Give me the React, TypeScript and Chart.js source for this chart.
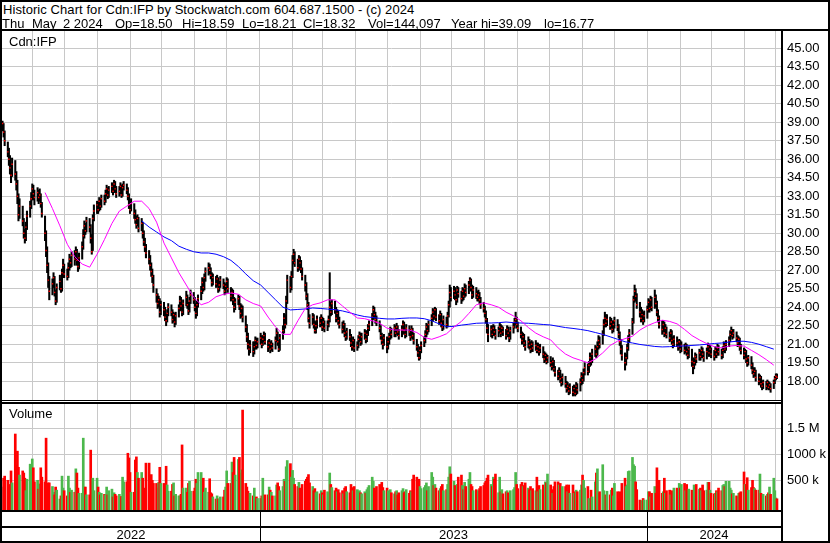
import React, { useEffect, useRef } from "react";
import { Chart, registerables } from "chart.js";
Chart.register(...registerables);

const FONT = '"Liberation Sans", Arial, Helvetica, sans-serif';
const GRID = "#c8c8c8";

const headerLine1 = "Historic Chart for Cdn:IFP by Stockwatch.com 604.687.1500 - (c) 2024";
// second header line: its fields and the column each one starts at
const headerFields = ["Thu", "May", "2 2024", "Op=18.50", "Hi=18.59", "Lo=18.21", "Cl=18.32", "Vol=144,097", "Year hi=39.09", "lo=16.77"];
const headerFieldX = [2, 32, 63, 115, 182, 242, 303, 368, 451, 544];
const symbolLabel = "Cdn:IFP";
const volumeLabel = "Volume";

// first trading day of the series (bars are every weekday from here)
const FIRST_DAY = [2022, 4, 4];

// daily closes, one line per week
const closes = [
  38.9, 38.2, 37.5,
  36.6, 36.0, 35.3, 34.7, 35.6,
  34.8, 34.0, 33.0, 31.5, 32.2,
  31.0, 30.0, 29.6, 30.5, 31.4,
  32.2, 32.8, 33.6, 33.2, 32.9,
  33.3, 32.9, 33.1, 32.4, 31.6,
  30.0, 28.6, 27.4, 26.2, 25.3,
  25.9, 26.4, 25.2, 24.5, 25.6,
  26.1, 25.5, 26.8, 27.4, 26.7,
  26.5, 27.2, 27.9, 27.6, 28.2,
  27.9, 28.5, 27.8, 27.3, 28.0,
  28.9, 29.8, 30.6, 30.2, 31.0,
  30.5, 29.6, 28.5, 31.2, 31.8,
  32.3, 31.9, 32.6, 32.2, 32.8,
  32.6, 33.2, 33.6, 33.1, 33.5,
  33.8, 33.4, 34.0, 33.6, 33.2,
  33.4, 33.8, 33.1, 33.7, 33.9,
  33.5, 33.0, 32.3, 31.9, 32.4,
  31.6, 31.1, 30.7, 31.2, 30.4,
  30.8, 30.0, 29.3, 28.9, 28.4,
  27.9, 27.4, 26.9, 26.5, 25.8,
  25.0, 24.3, 24.6, 23.6, 24.2,
  23.8, 23.2, 22.9, 23.5, 24.0,
  23.6, 23.0, 23.4, 22.8, 23.3,
  23.9, 24.5, 24.1, 23.6, 24.3,
  24.8, 24.2, 23.7, 24.5, 25.0,
  24.6, 24.0, 23.5, 24.2, 24.7,
  25.3, 26.0, 25.6, 26.4, 26.9,
  27.2, 27.0, 26.6, 26.0, 26.4,
  25.9, 26.3, 25.5, 25.8, 26.2,
  25.8, 25.3, 25.7, 26.1, 25.5,
  24.9, 25.2, 24.6, 24.0, 24.4,
  24.7, 24.1, 23.5, 23.9, 23.2,
  22.4, 21.6, 21.0, 20.6, 20.9,
  20.4, 20.8, 21.3, 20.9, 21.2,
  21.5, 21.0, 21.4, 21.7, 21.2,
  20.8, 21.1, 20.6, 21.0, 20.7,
  21.3, 21.9, 21.2, 20.6, 21.5,
  22.1, 23.1, 22.6, 24.5, 26.2,
  25.6, 26.5, 27.8, 28.3, 27.6,
  27.2, 27.9, 27.6, 27.1, 26.5,
  25.8, 24.9, 24.2, 23.1, 22.7,
  23.2, 22.6, 22.1, 22.5, 23.0,
  22.7, 23.1, 22.4, 22.8, 22.3,
  22.6, 23.0, 24.0, 23.6, 24.3,
  23.8, 23.1, 23.5, 22.9, 22.6,
  22.2, 22.6, 21.9, 21.6, 22.0,
  21.6, 21.1, 20.8, 21.3, 20.7,
  20.9, 21.4, 21.7, 21.2, 21.6,
  21.9, 21.4, 21.8, 22.3, 22.6,
  23.2, 23.8, 23.4, 23.0, 22.8,
  22.3, 21.7, 21.3, 21.0, 21.5,
  20.8, 21.2, 21.6, 22.1, 21.8,
  22.3, 21.9, 22.4, 22.0, 21.7,
  22.2, 22.6, 22.1, 21.8, 22.3,
  22.0, 21.6, 22.2, 21.7, 21.3,
  20.8, 20.3, 19.9, 20.5, 20.9,
  21.3, 21.8, 22.4, 22.1, 22.6,
  23.1, 23.6, 23.3, 23.8, 23.2,
  22.9, 23.4, 22.7, 22.4, 23.0,
  22.6, 23.3, 24.2, 25.2, 24.8,
  25.3, 25.0, 24.6, 25.4, 25.1,
  24.7, 25.3, 24.9, 25.5, 25.2,
  25.8, 26.2, 25.6, 25.0, 25.4,
  25.1, 24.8, 25.0, 24.6, 24.2,
  23.9, 23.5, 23.0, 22.3, 21.8,
  22.2, 21.8, 22.3, 22.0, 21.7,
  22.1, 22.4, 21.9, 22.3, 22.0,
  21.7, 22.2, 21.9, 21.5, 22.1,
  22.4, 22.8, 23.0, 22.6, 22.3,
  21.8, 21.3, 21.6, 21.1, 20.8,
  21.2, 20.9, 20.6, 21.0, 20.7,
  20.9, 20.5, 20.8, 20.4, 20.7,
  20.2, 19.8, 20.1, 19.6, 19.9,
  19.5, 19.2, 19.6, 19.0, 18.7,
  18.4, 18.8, 18.2, 17.9, 18.3,
  17.8, 17.4, 17.6, 17.2, 17.5,
  17.1, 17.4, 17.0, 17.6, 17.3,
  17.9, 18.4, 18.1, 18.7, 19.1,
  18.8, 19.3, 19.9, 19.6, 20.2,
  20.6, 20.2, 20.8, 21.3, 21.0,
  21.8, 22.6, 23.1, 22.7, 23.0,
  22.5, 22.8, 22.2, 22.6, 22.9,
  22.4, 21.8, 21.2, 20.6, 20.1,
  19.5, 19.9, 20.7, 21.4, 21.9,
  22.8, 24.6, 25.3, 24.9, 24.2,
  23.6, 23.1, 23.4, 22.9, 23.3,
  23.8, 24.4, 23.9, 24.6, 24.0,
  24.8, 24.3, 23.6, 23.1, 22.6,
  22.2, 22.6, 21.9, 22.3, 21.8,
  21.5, 21.9, 21.3, 21.0, 21.4,
  21.1, 20.8, 21.2, 20.6, 20.9,
  20.5, 20.9, 20.4, 20.1, 20.6,
  19.6, 19.2, 19.5, 20.0, 19.8,
  20.3, 20.0, 20.5, 20.2, 19.9,
  20.4, 20.8, 20.3, 20.6, 20.2,
  20.0, 20.5, 20.2, 20.7, 20.4,
  20.1, 20.5, 20.9, 20.6, 21.0,
  21.3, 21.8, 22.1, 21.7, 21.9,
  21.5, 21.1, 21.4, 20.8, 20.5,
  20.1, 20.4, 19.8, 19.5, 19.9,
  19.3, 18.9, 18.6, 18.8, 18.3,
  18.0, 18.3, 17.8, 17.6, 17.9,
  17.6, 17.9, 17.5, 17.7, 17.4,
  17.9, 18.2, 18.4, 18.32,
];

const highs = [
  39.1, 38.9, 38.3,
  37.4, 36.9, 36.3, 35.6, 36.1,
  35.9, 35.0, 34.3, 33.2, 32.8,
  32.2, 31.2, 30.3, 30.9, 31.8,
  32.6, 33.3, 34.0, 33.9, 33.5,
  33.7, 33.5, 33.6, 33.2, 32.5,
  31.4, 30.2, 28.9, 27.6, 26.5,
  26.3, 26.8, 26.5, 25.4, 25.9,
  26.6, 26.3, 27.1, 27.9, 27.5,
  27.1, 27.6, 28.3, 28.1, 28.5,
  28.6, 28.9, 28.7, 28.0, 28.4,
  29.3, 30.3, 31.0, 30.8, 31.3,
  31.2, 30.7, 29.9, 31.5, 32.3,
  32.6, 32.5, 32.9, 32.8, 33.1,
  33.1, 33.5, 33.9, 33.7, 33.8,
  34.1, 34.0, 34.3, 34.2, 33.8,
  33.8, 34.1, 33.9, 34.0, 34.2,
  34.0, 33.7, 33.2, 32.5, 32.8,
  32.4, 31.9, 31.4, 31.5, 31.3,
  31.2, 30.9, 30.2, 29.6, 29.1,
  28.6, 28.2, 27.6, 27.1, 26.6,
  25.5, 25.1, 24.9, 24.7, 24.5,
  24.4, 24.0, 23.5, 23.8, 24.3,
  24.2, 23.8, 23.6, 23.5, 23.6,
  24.2, 24.9, 24.8, 24.3, 24.6,
  25.3, 25.0, 24.4, 24.8, 25.4,
  25.2, 24.8, 24.3, 24.5, 25.0,
  25.7, 26.4, 26.3, 26.7, 27.2,
  27.6, 27.5, 27.2, 26.8, 26.7,
  26.5, 26.6, 26.4, 26.1, 26.5,
  26.3, 26.0, 25.9, 26.4, 26.3,
  25.6, 25.5, 25.4, 24.8, 24.7,
  25.0, 24.9, 24.3, 24.2, 24.1,
  23.3, 22.6, 21.9, 21.3, 21.3,
  21.2, 21.2, 21.6, 21.5, 21.5,
  21.9, 21.7, 21.7, 22.0, 21.9,
  21.3, 21.4, 21.2, 21.3, 21.1,
  21.6, 22.3, 22.0, 21.3, 21.8,
  22.5, 23.5, 23.4, 24.9, 26.6,
  26.5, 26.9, 28.2, 28.7, 28.5,
  27.9, 28.2, 28.1, 27.8, 27.2,
  26.6, 26.0, 25.1, 24.4, 23.4,
  23.5, 23.4, 22.9, 22.8, 23.3,
  23.2, 23.4, 23.2, 23.1, 22.9,
  22.9, 23.3, 26.8, 24.4, 24.6,
  24.5, 24.0, 23.8, 23.7, 23.2,
  22.8, 22.9, 22.7, 22.1, 22.3,
  22.2, 21.8, 21.3, 21.6, 21.4,
  21.2, 21.7, 22.0, 21.9, 21.9,
  22.2, 22.1, 22.1, 22.6, 22.9,
  23.5, 24.1, 24.0, 23.6, 23.3,
  22.9, 22.5, 21.9, 21.6, 21.8,
  21.6, 21.5, 21.9, 22.4, 22.3,
  22.6, 22.5, 22.7, 22.5, 22.2,
  22.5, 22.9, 22.8, 22.3, 22.6,
  22.5, 22.2, 22.5, 22.3, 21.9,
  21.4, 21.0, 20.5, 20.8, 21.2,
  21.6, 22.1, 22.7, 22.6, 22.9,
  23.4, 23.9, 23.8, 24.0, 23.9,
  23.4, 23.7, 23.5, 22.9, 23.3,
  23.2, 23.6, 24.5, 25.8, 25.6,
  25.7, 25.6, 25.2, 25.7, 25.6,
  25.3, 25.6, 25.5, 25.9, 25.8,
  26.1, 26.4, 26.3, 25.8, 25.7,
  25.6, 25.3, 25.4, 25.2, 24.8,
  24.4, 24.1, 23.7, 23.1, 22.6,
  22.5, 22.5, 22.6, 22.5, 22.2,
  22.4, 22.7, 22.6, 22.5, 22.4,
  22.2, 22.5, 22.4, 22.0, 22.4,
  22.7, 23.1, 23.6, 23.2, 22.8,
  22.4, 22.0, 21.9, 21.8, 21.3,
  21.6, 21.4, 21.2, 21.3, 21.2,
  21.3, 21.1, 21.1, 20.9, 21.0,
  20.8, 20.4, 20.3, 20.2, 20.1,
  20.0, 19.7, 19.9, 19.7, 19.2,
  18.9, 19.1, 18.9, 18.4, 18.6,
  18.4, 18.0, 17.9, 17.7, 17.8,
  17.6, 17.7, 17.6, 17.9, 17.8,
  18.2, 18.7, 18.6, 19.0, 19.5,
  19.4, 19.6, 20.3, 20.1, 20.6,
  20.9, 20.8, 21.2, 21.7, 21.6,
  22.1, 23.0, 23.6, 23.4, 23.4,
  23.2, 23.1, 22.9, 22.9, 23.2,
  23.0, 22.6, 22.0, 21.4, 20.9,
  20.3, 20.2, 21.0, 21.7, 22.2,
  23.1, 24.9, 25.8, 25.5, 25.1,
  24.4, 24.0, 23.8, 23.6, 23.7,
  24.1, 24.7, 24.6, 24.9, 24.8,
  25.4, 25.0, 24.5, 23.8, 23.3,
  22.9, 22.9, 22.8, 22.6, 22.4,
  22.0, 22.2, 22.1, 21.6, 21.7,
  21.6, 21.3, 21.4, 21.3, 21.2,
  21.0, 21.1, 21.0, 20.6, 20.8,
  20.6, 19.9, 19.8, 20.3, 20.2,
  20.6, 20.5, 20.8, 20.7, 20.4,
  20.7, 21.1, 21.0, 20.9, 20.7,
  20.5, 20.8, 20.7, 21.0, 20.9,
  20.6, 20.8, 21.2, 21.1, 21.3,
  21.6, 22.1, 22.4, 22.2, 22.2,
  22.0, 21.7, 21.6, 21.5, 21.0,
  20.7, 20.6, 20.5, 20.0, 20.1,
  20.0, 19.5, 19.1, 19.1, 18.9,
  18.6, 18.5, 18.4, 18.0, 18.1,
  18.0, 18.1, 18.0, 17.9, 17.8,
  18.1, 18.4, 18.6, 18.59,
];

const lows = [
  38.3, 37.8, 37.1,
  36.2, 35.5, 34.8, 34.1, 34.6,
  34.3, 33.5, 32.4, 31.0, 31.2,
  30.6, 29.6, 29.2, 29.4, 30.3,
  31.3, 32.0, 32.7, 32.7, 32.3,
  32.6, 32.4, 32.6, 32.1, 31.3,
  29.4, 28.1, 26.8, 25.6, 24.6,
  25.0, 25.6, 24.9, 24.2, 24.4,
  25.4, 25.2, 25.3, 26.4, 26.4,
  26.2, 26.4, 27.0, 27.2, 27.3,
  27.4, 27.8, 27.4, 26.9, 27.1,
  27.9, 28.7, 29.6, 29.9, 30.1,
  30.1, 29.2, 28.3, 28.6, 31.0,
  31.6, 31.6, 31.8, 31.9, 32.1,
  32.3, 32.5, 33.0, 32.8, 32.9,
  33.3, 33.1, 33.3, 33.3, 32.9,
  33.0, 33.2, 32.9, 33.0, 33.5,
  33.2, 32.7, 32.0, 31.6, 31.8,
  31.2, 30.8, 30.4, 30.6, 30.1,
  30.2, 29.6, 29.0, 28.5, 28.0,
  27.5, 27.0, 26.5, 26.0, 25.2,
  24.4, 23.9, 24.0, 23.2, 23.4,
  23.3, 22.9, 22.5, 22.8, 23.3,
  23.3, 22.7, 22.8, 22.4, 22.6,
  23.2, 23.7, 23.8, 23.3, 23.4,
  24.1, 23.9, 23.4, 23.6, 24.3,
  24.3, 23.7, 23.1, 23.3, 24.0,
  24.6, 25.1, 25.3, 25.4, 26.1,
  26.6, 26.7, 26.3, 25.7, 25.8,
  25.6, 25.7, 25.2, 25.3, 25.6,
  25.5, 25.0, 25.1, 25.5, 25.2,
  24.5, 24.7, 24.2, 23.6, 23.8,
  24.2, 23.8, 23.1, 23.2, 22.8,
  22.0, 21.2, 20.6, 20.1, 20.3,
  20.0, 20.2, 20.6, 20.6, 20.7,
  21.0, 20.7, 20.9, 21.2, 21.0,
  20.4, 20.6, 20.3, 20.5, 20.4,
  20.6, 21.2, 20.9, 20.4, 20.5,
  21.4, 21.9, 22.3, 22.6, 24.3,
  25.2, 25.4, 26.4, 27.5, 27.3,
  26.9, 27.0, 27.2, 26.8, 26.2,
  25.3, 24.6, 23.8, 22.8, 22.3,
  22.6, 22.3, 21.9, 21.9, 22.3,
  22.4, 22.5, 22.1, 22.2, 22.0,
  22.1, 22.4, 22.8, 23.3, 23.4,
  23.5, 22.8, 22.9, 22.6, 22.3,
  21.9, 22.0, 21.6, 21.3, 21.4,
  21.3, 20.8, 20.5, 20.6, 20.4,
  20.5, 20.7, 21.2, 20.9, 21.0,
  21.4, 21.1, 21.2, 21.7, 22.1,
  22.5, 23.0, 23.1, 22.7, 22.5,
  22.0, 21.4, 21.0, 20.6, 20.9,
  20.3, 20.6, 21.0, 21.4, 21.5,
  21.6, 21.6, 21.8, 21.7, 21.4,
  21.6, 21.9, 21.8, 21.5, 21.6,
  21.7, 21.3, 21.5, 21.4, 21.0,
  20.5, 20.0, 19.7, 19.8, 20.3,
  20.8, 21.1, 21.6, 21.8, 22.0,
  22.5, 22.9, 23.0, 23.1, 22.9,
  22.6, 22.7, 22.4, 22.1, 22.2,
  22.3, 22.4, 23.2, 24.0, 24.5,
  24.7, 24.6, 24.2, 24.4, 24.8,
  24.3, 24.5, 24.6, 24.8, 24.9,
  25.1, 25.6, 25.3, 24.7, 24.8,
  24.7, 24.5, 24.5, 24.3, 23.9,
  23.6, 23.2, 22.7, 21.9, 21.2,
  21.6, 21.5, 21.7, 21.7, 21.4,
  21.6, 21.9, 21.6, 21.8, 21.7,
  21.4, 21.6, 21.6, 21.2, 21.4,
  21.9, 22.3, 22.6, 22.3, 22.0,
  21.5, 21.0, 21.1, 20.8, 20.5,
  20.7, 20.6, 20.3, 20.4, 20.4,
  20.5, 20.3, 20.3, 20.1, 20.3,
  19.9, 19.5, 19.6, 19.4, 19.5,
  19.2, 18.9, 19.0, 18.8, 18.4,
  18.1, 18.2, 17.9, 17.6, 17.7,
  17.5, 17.1, 17.2, 16.9, 17.0,
  16.8, 16.9, 16.8, 16.9, 17.0,
  17.2, 17.7, 17.8, 18.0, 18.5,
  18.5, 18.7, 19.2, 19.3, 19.5,
  20.0, 19.9, 20.1, 20.6, 20.7,
  21.0, 21.7, 22.4, 22.4, 22.5,
  22.2, 22.3, 21.9, 22.0, 22.3,
  22.1, 21.5, 20.9, 20.2, 19.7,
  18.9, 19.3, 19.8, 20.5, 21.2,
  21.8, 22.7, 24.4, 24.5, 23.9,
  23.2, 22.8, 22.9, 22.6, 22.8,
  23.1, 23.6, 23.6, 23.8, 23.7,
  23.9, 24.0, 23.3, 22.8, 22.3,
  21.8, 22.0, 21.6, 21.7, 21.5,
  21.2, 21.3, 21.0, 20.7, 20.8,
  20.8, 20.5, 20.6, 20.3, 20.4,
  20.2, 20.3, 20.1, 19.8, 19.9,
  19.2, 18.6, 19.0, 19.3, 19.5,
  19.7, 19.7, 19.9, 19.9, 19.6,
  19.8, 20.2, 20.0, 20.1, 19.9,
  19.7, 19.9, 19.9, 20.1, 20.1,
  19.8, 19.9, 20.4, 20.3, 20.5,
  20.8, 21.2, 21.6, 21.4, 21.5,
  21.2, 20.8, 20.9, 20.5, 20.2,
  19.8, 19.9, 19.5, 19.2, 19.3,
  19.0, 18.6, 18.3, 18.4, 18.0,
  17.7, 17.8, 17.5, 17.3, 17.4,
  17.3, 17.4, 17.3, 17.3, 17.1,
  17.4, 17.8, 18.1, 18.21,
];

// daily volume, thousands of shares
const volumes = [
  370, 540, 580,
  500, 420, 250, 680, 450,
  1390, 790, 1060, 750, 600,
  680, 640, 540, 300, 520,
  810, 620, 910, 740, 470,
  500, 330, 430, 740, 560,
  470, 1310, 120, 450, 450,
  380, 270, 220, 370, 310,
  140, 200, 580, 350, 300,
  200, 580, 350, 270, 310,
  270, 720, 640, 350, 250,
  250, 1310, 370, 370, 220,
  220, 1080, 350, 540, 300,
  540, 370, 270, 220, 250,
  230, 220, 370, 220, 300,
  330, 180, 260, 230, 200,
  230, 160, 190, 560, 470,
  470, 1020, 930, 650, 270,
  270, 890, 950, 650, 540,
  650, 540, 330, 350, 830,
  830, 560, 610, 500, 440,
  440, 350, 460, 750, 440,
  440, 410, 770, 410, 290,
  290, 420, 450, 200, 230,
  200, 200, 230, 1180, 350,
  350, 270, 440, 480, 290,
  290, 350, 520, 440, 650,
  650, 490, 540, 270, 350,
  270, 530, 260, 240, 180,
  140, 200, 140, 140, 180,
  180, 310, 370, 680, 440,
  440, 850, 650, 940, 600,
  900, 940, 640, 700, 1850,
  440, 370, 290, 200, 250,
  200, 350, 120, 180, 150,
  150, 200, 540, 200, 220,
  220, 370, 310, 270, 200,
  200, 410, 450, 380, 300,
  380, 520, 480, 760, 880,
  820, 560, 690, 540, 420,
  380, 460, 350, 300, 420,
  480, 520, 560, 610, 450,
  380, 300, 340, 260, 280,
  240, 300, 260, 220, 310,
  280, 250, 640, 420, 360,
  300, 350, 280, 320, 260,
  300, 240, 350, 380, 280,
  260, 420, 360, 300, 380,
  320, 280, 300, 260, 240,
  280, 250, 320, 360, 400,
  560, 480, 350, 300, 380,
  420, 380, 460, 360, 300,
  350, 300, 280, 320, 260,
  240, 280, 300, 220, 260,
  300, 340, 260, 280, 320,
  250, 300, 280, 520, 600,
  560, 460, 520, 380, 340,
  360, 400, 450, 300, 380,
  650, 560, 400, 420, 350,
  300, 340, 380, 420, 300,
  320, 420, 560, 760, 620,
  480, 400, 360, 420, 560,
  600, 400, 320, 460, 380,
  520, 650, 420, 380, 300,
  320, 280, 300, 340, 380,
  400, 450, 480, 540, 600,
  420, 380, 560, 520, 620,
  260, 560, 280, 320, 240,
  280, 300, 260, 240, 300,
  320, 360, 650, 420, 340,
  420, 460, 380, 400, 450,
  350, 320, 380, 300, 340,
  300, 560, 280, 400, 320,
  410, 360, 470, 450, 620,
  410, 320, 250, 380, 470,
  470, 410, 440, 350, 380,
  380, 410, 280, 410, 250,
  410, 250, 280, 310, 280,
  310, 410, 600, 500, 350,
  380, 150, 120, 310, 180,
  470, 640, 720, 250, 280,
  800, 300, 120, 220, 290,
  220, 310, 350, 200, 440,
  280, 150, 280, 200, 440,
  540, 380, 410, 670, 680,
  940, 800, 770, 470, 320,
  120, 90, 110, 150, 120,
  120, 280, 280, 180, 250,
  380, 250, 740, 220, 500,
  250, 280, 540, 250, 300,
  310, 220, 300, 160, 350,
  350, 250, 440, 350, 420,
  440, 300, 420, 310, 330,
  310, 250, 410, 250, 420,
  330, 350, 300, 410, 300,
  310, 460, 460, 310, 250,
  240, 250, 300, 280, 350,
  300, 400, 420, 380, 480,
  480, 350, 310, 240, 250,
  200, 180, 250, 260, 280,
  660, 420, 420, 550, 310,
  360, 500, 360, 340, 310,
  310, 620, 250, 200, 230,
  200, 230, 260, 370, 230,
  540, 300, 160, 144,
];

// moving averages, one value per week (at the week's first bar)
const maFast = [
  null, null, null, null, null, null,
  33.3, 32.0, 30.6, 29.1, 28.1, 27.5, 27.25, 28.3, 29.5, 30.8,
  31.8, 32.2, 32.6, 32.6, 32.0, 30.9, 29.2, 28.0, 26.8, 25.8,
  24.8, 24.2, 24.4, 24.85, 25.05, 25.15, 25.05, 24.6, 24.3, 24.1,
  23.2, 22.4, 21.8, 21.8, 22.9, 23.9, 24.2, 24.35, 24.6, 24.6,
  24.1, 23.6, 23.13, 23.07, 22.9, 22.7, 22.3, 22.15, 22.15, 22.15,
  21.95, 21.55, 21.4, 21.6, 21.85, 22.4, 22.85, 23.5, 24.2, 24.35,
  24.2, 24.0, 23.6, 23.3, 22.9, 22.35, 21.9, 21.6, 21.35, 20.7,
  20.2, 19.9, 19.7, 19.5, 19.8, 20.3, 20.9, 21.25, 21.45, 21.65,
  22.15, 22.5, 22.75, 22.95, 22.85, 22.65, 22.2, 21.7, 21.35, 21.05,
  20.8, 20.7, 20.85, 20.9, 20.85, 20.5, 20.15, 19.75, 19.3,
];

const maSlow = [
  null, null, null, null, null, null, null, null, null, null,
  null, null, null, null, null, null, null, null, null,
  31.0, 30.5, 30.1, 29.7, 29.4, 28.95, 28.7, 28.5, 28.4, 28.4,
  28.3, 28.1, 27.8, 27.3, 26.7, 26.15, 25.8, 25.2, 24.6, 24.0,
  23.78, 23.82, 23.86, 23.94, 23.9, 23.85, 23.8, 23.7, 23.55, 23.37,
  23.24, 23.17, 23.1, 23.05, 23.05, 23.1, 23.13, 23.13, 23.07, 22.9,
  22.65, 22.42, 22.45, 22.55, 22.62, 22.7, 22.72, 22.72, 22.75, 22.8,
  22.75, 22.72, 22.7, 22.65, 22.6, 22.56, 22.45, 22.35, 22.28, 22.2,
  22.1, 21.95, 21.8, 21.6, 21.4, 21.2, 21.1, 20.98, 20.9, 20.82,
  20.78, 20.8, 20.84, 20.86, 20.9, 20.94, 21.0, 21.06, 21.1, 21.18,
  21.24, 21.24, 21.15, 21.0, 20.8, 20.6,
];

const priceTicks = [18, 19.5, 21, 22.5, 24, 25.5, 27, 28.5, 30, 31.5, 33, 34.5, 36, 37.5, 39, 40.5, 42, 43.5, 45];
const volumeTicks = [500000, 1000000, 1500000];
const volumeTickLabels = ["500 k", "1000 k", "1.5 M"];
const yearLabels = ["2022", "2023", "2024"];

// ---- calendar helpers (days counted from 2023-01-01) ----
const DAY_MS = 86400000;
const ORIGIN = Date.UTC(2023, 0, 1);
const toDay = (t: number) => Math.round((t - ORIGIN) / DAY_MS);
const X_MIN = -242.5;
const X_MAX = 490.8;

function buildCalendar() {
  const days: number[] = [];
  const weekFirst: number[] = [];
  let t = Date.UTC(FIRST_DAY[0], FIRST_DAY[1], FIRST_DAY[2]);
  let lastWeek = -999;
  while (days.length < closes.length) {
    const dow = new Date(t).getUTCDay();
    if (dow !== 0 && dow !== 6) {
      const d = toDay(t);
      const wk = Math.floor((d + 1) / 7); // weeks starting Monday
      if (wk !== lastWeek) {
        weekFirst.push(d);
        lastWeek = wk;
      }
      days.push(d);
    }
    t += DAY_MS;
  }
  const months: number[] = [];
  let y = FIRST_DAY[0];
  let m = FIRST_DAY[1];
  for (;;) {
    const d = toDay(Date.UTC(y, m, 1));
    if (d > X_MAX) break;
    if (d >= X_MIN) months.push(d);
    m++;
    if (m > 11) {
      m = 0;
      y++;
    }
  }
  const yearStarts = [toDay(Date.UTC(2023, 0, 1)), toDay(Date.UTC(2024, 0, 1))];
  return { days, weekFirst, months, yearStarts };
}

const P_TOP = 31;
const P_BOTTOM = 400;
const V_TOP = 404;
const V_BOTTOM = 510;
const PRICE_MIN = 16.476;
const PRICE_MAX = 46.403;
const VOL_MIN = -71200;
const VOL_MAX = 1967000;

const zeroPad = (s: any) => {
  s.paddingTop = 0;
  s.paddingBottom = 0;
  s.paddingLeft = 0;
  s.paddingRight = 0;
};

export default function App() {
  const priceRef = useRef<HTMLCanvasElement | null>(null);
  const volRef = useRef<HTMLCanvasElement | null>(null);

  useEffect(() => {
    const { days, weekFirst, months, yearStarts } = buildCalendar();

    const rangePts = days.map((d, i) => ({ x: d, y: [lows[i], highs[i]] }));
    const closePts = days.map((d, i) => ({ x: d, y: closes[i] }));
    const fastPts = weekFirst
      .map((d, i) => ({ x: d, y: maFast[i] }))
      .filter((p) => p.y !== null && p.y !== undefined);
    const slowPts = weekFirst
      .map((d, i) => ({ x: d, y: maSlow[i] }))
      .filter((p) => p.y !== null && p.y !== undefined);

    const monthGrid = (s: any) => {
      s.ticks = months.map((v) => ({ value: v }));
    };

    const makeX = (): any => ({
      type: "linear",
      min: X_MIN,
      max: X_MAX,
      offset: false,
      grid: { color: GRID, lineWidth: 1, offset: false, drawTicks: false },
      border: { display: false },
      ticks: { display: false },
      afterBuildTicks: monthGrid,
      afterFit: (s: any) => {
        s.height = 0;
        zeroPad(s);
      },
    });

    const priceChart = new Chart(priceRef.current as HTMLCanvasElement, {
      type: "bar",
      data: {
        datasets: [
          {
            type: "line",
            data: fastPts as any,
            borderColor: "#ff00ff",
            borderWidth: 1,
            pointRadius: 0,
            tension: 0,
            order: 0,
          },
          {
            type: "line",
            data: slowPts as any,
            borderColor: "#0000ff",
            borderWidth: 1,
            pointRadius: 0,
            tension: 0,
            order: 0,
          },
          {
            type: "scatter",
            data: closePts as any,
            pointStyle: "rect",
            pointRadius: 1,
            backgroundColor: "#ff0000",
            borderWidth: 0,
            order: 1,
          },
          {
            type: "bar",
            data: rangePts as any,
            backgroundColor: "#000000",
            barThickness: 1.4,
            order: 2,
          },
        ] as any,
      },
      options: {
        animation: false,
        responsive: false,
        events: [],
        layout: { autoPadding: false, padding: { left: 2, right: 0, top: 0, bottom: 0 } },
        plugins: { legend: { display: false }, tooltip: { enabled: false } },
        scales: {
          x: makeX(),
          y: {
            type: "linear",
            position: "right",
            min: PRICE_MIN,
            max: PRICE_MAX,
            grid: { color: GRID, lineWidth: 1, drawTicks: false },
            border: { display: false },
            afterBuildTicks: (s: any) => {
              s.ticks = priceTicks.map((v) => ({ value: v }));
            },
            ticks: {
              padding: 6,
              color: "#000",
              font: { family: FONT, size: 13 },
              callback: (v: any) => Number(v).toFixed(2),
            },
            afterFit: (s: any) => {
              s.width = 49;
              zeroPad(s);
            },
          },
        } as any,
      },
    });

    const volColors = volumes.map((v, i) => {
      if (i === 0 || closes[i] === closes[i - 1]) return "#a8a8a8";
      return closes[i] > closes[i - 1] ? "#4cb84c" : "#ff0000";
    });

    const yearStrip = {
      id: "yearStrip",
      afterDraw(chart: any) {
        const { ctx, chartArea, scales } = chart;
        const xs = scales.x;
        const bounds = yearStarts.map((d) => Math.round(xs.getPixelForValue(d)));
        const edges = [chartArea.left, ...bounds, chartArea.right];
        ctx.save();
        ctx.fillStyle = "#000";
        bounds.forEach((px) => ctx.fillRect(px, chartArea.bottom, 1, chart.height - chartArea.bottom));
        ctx.font = `13px ${FONT}`;
        ctx.textAlign = "center";
        ctx.textBaseline = "alphabetic";
        yearLabels.forEach((lab, i) => {
          ctx.fillText(lab, (edges[i] + edges[i + 1]) / 2, chartArea.bottom + 29);
        });
        ctx.restore();
      },
    };

    const volChart = new Chart(volRef.current as HTMLCanvasElement, {
      type: "bar",
      data: {
        datasets: [
          {
            type: "bar",
            data: days.map((d, i) => ({ x: d, y: [VOL_MIN, volumes[i] * 1000] })) as any,
            backgroundColor: volColors,
            barThickness: 2,
          },
        ],
      },
      options: {
        animation: false,
        responsive: false,
        events: [],
        layout: { autoPadding: false, padding: { left: 2, right: 0, top: 0, bottom: 543 - V_BOTTOM } },
        plugins: { legend: { display: false }, tooltip: { enabled: false } },
        scales: {
          x: makeX(),
          y: {
            type: "linear",
            position: "right",
            min: VOL_MIN,
            max: VOL_MAX,
            grid: { color: GRID, lineWidth: 1, drawTicks: false },
            border: { display: false },
            afterBuildTicks: (s: any) => {
              s.ticks = volumeTicks.map((v) => ({ value: v }));
            },
            ticks: {
              padding: 6,
              color: "#000",
              font: { family: FONT, size: 13 },
              callback: (v: any) => volumeTickLabels[volumeTicks.indexOf(Number(v))] ?? "",
            },
            afterFit: (s: any) => {
              s.width = 49;
              zeroPad(s);
            },
          },
        } as any,
      },
      plugins: [yearStrip],
    });

    return () => {
      priceChart.destroy();
      volChart.destroy();
    };
  }, []);

  const line = (left: number, top: number, width: number, height: number) => (
    <div style={{ position: "absolute", left, top, width, height, background: "#000" }} />
  );
  const text = (s: string, left: number, baseline: number, key?: string, spacing?: number) => (
    <div
      key={key}
      style={{
        position: "absolute",
        left,
        top: baseline - 12,
        fontFamily: FONT,
        fontSize: 13,
        lineHeight: "15px",
        whiteSpace: "pre",
        letterSpacing: spacing ? `${spacing}px` : undefined,
        color: "#000",
      }}
    >
      {s}
    </div>
  );

  return (
    <div style={{ position: "absolute", left: 0, top: 0, width: 830, height: 543, background: "#fff", overflow: "hidden" }}>
      <canvas
        ref={priceRef}
        width={830}
        height={P_BOTTOM - P_TOP}
        style={{ position: "absolute", left: 0, top: P_TOP, display: "block" }}
      />
      <canvas
        ref={volRef}
        width={830}
        height={543 - V_TOP}
        style={{ position: "absolute", left: 0, top: V_TOP, display: "block" }}
      />
      {text(headerLine1, 3, 14, "l1", 0.07)}
      {headerFields.map((f, i) => text(f, headerFieldX[i], 28, "h" + i))}
      {text(symbolLabel, 9, 46)}
      {text(volumeLabel, 9, 418)}
      {/* frame */}
      <div
        style={{
          position: "absolute",
          left: 0,
          top: 0,
          width: 830,
          height: 543,
          boxSizing: "border-box",
          border: "2px solid #000",
        }}
      />
      {line(0, 29, 830, 2)}
      {line(781, 29, 2, 514)}
      {line(0, 400, 783, 1)}
      {line(0, 402, 783, 2)}
      {line(0, 510, 783, 2)}
      {line(0, 526, 783, 2)}
    </div>
  );
}
